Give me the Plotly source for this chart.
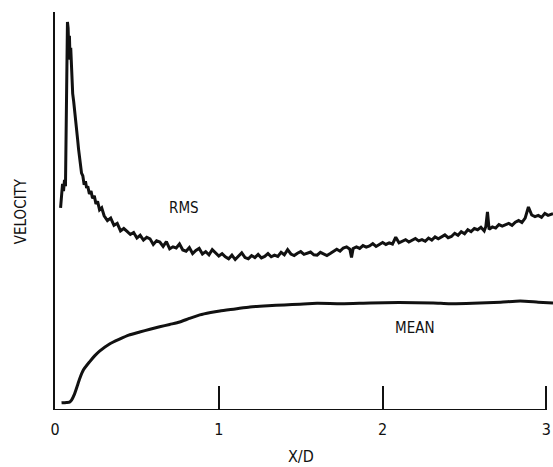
import plotly.graph_objects as go

# RMS velocity trace (x/d, arbitrary velocity units 0-100)
rms_x = [0.034, 0.040, 0.046, 0.052, 0.058, 0.064, 0.068, 0.072, 0.076, 0.080,
         0.084, 0.088, 0.092, 0.096, 0.100, 0.104, 0.108, 0.114, 0.120, 0.126,
         0.132, 0.138, 0.144, 0.150, 0.156, 0.162, 0.170, 0.178, 0.186, 0.193,
         0.200, 0.210, 0.220, 0.229, 0.240, 0.250, 0.260, 0.272, 0.285,
         0.30, 0.32, 0.34, 0.36, 0.38, 0.40, 0.42, 0.44, 0.46, 0.48,
         0.50, 0.52, 0.54, 0.56, 0.58, 0.60, 0.62, 0.64, 0.66, 0.68,
         0.70, 0.72, 0.74, 0.76, 0.78, 0.80, 0.82, 0.84, 0.86, 0.88,
         0.90, 0.92, 0.94, 0.96, 0.98, 1.00, 1.02, 1.04, 1.06, 1.08,
         1.10, 1.12, 1.14, 1.16, 1.18, 1.20, 1.22, 1.24, 1.26, 1.28,
         1.30, 1.32, 1.34, 1.36, 1.38, 1.40, 1.42, 1.44, 1.46, 1.48,
         1.50, 1.52, 1.54, 1.56, 1.58, 1.60, 1.62, 1.64, 1.66, 1.68,
         1.70, 1.72, 1.74, 1.76, 1.78, 1.80, 1.81, 1.82, 1.84, 1.86, 1.88,
         1.90, 1.92, 1.94, 1.96, 1.98, 2.00, 2.02, 2.04, 2.06, 2.08,
         2.10, 2.12, 2.14, 2.16, 2.18, 2.20, 2.22, 2.24, 2.26, 2.28,
         2.30, 2.32, 2.34, 2.36, 2.38, 2.40, 2.42, 2.44, 2.46, 2.48,
         2.50, 2.52, 2.54, 2.56, 2.58, 2.60, 2.62, 2.63, 2.64, 2.65,
         2.67, 2.69, 2.71, 2.73, 2.75, 2.77, 2.79, 2.81, 2.83, 2.85,
         2.87, 2.89, 2.91, 2.93, 2.95, 2.97, 2.99, 3.01, 3.04]
rms_y = [50.8, 54.0, 56.8, 55.0, 57.8, 56.2, 78.0, 92.0, 97.5, 96.0,
         90.5, 94.0, 88.0, 91.0, 86.0, 82.0, 79.5, 77.5, 75.5, 73.0,
         70.5, 68.0, 65.5, 63.5, 61.0, 59.5, 58.8, 56.6, 57.5, 55.8,
         56.2, 54.3, 55.0, 53.2, 53.8, 51.8, 52.4, 50.3, 50.8,
         48.8, 47.6, 48.2, 46.4, 46.9, 45.0, 45.6, 44.9, 44.1, 44.6,
         43.2, 43.9, 42.7, 43.4, 43.0, 41.6, 42.5, 42.2, 41.1, 42.3,
         40.5, 41.0, 40.7, 41.7, 40.2, 39.9, 40.8, 39.3, 40.1, 40.6,
         39.2, 39.8, 39.0, 40.3, 39.4, 38.7, 39.3, 38.5, 38.0, 38.9,
         37.8, 38.6, 39.5, 38.3, 38.0, 38.8, 38.3, 39.1, 38.2, 38.6,
         39.3, 38.5, 38.9, 38.6, 39.6, 39.0, 40.3, 39.2, 38.8, 39.4,
         39.8, 39.1, 39.5, 39.7, 39.0, 38.9, 39.6, 39.2, 38.8, 39.3,
         39.8, 40.4, 39.9, 40.7, 41.0, 40.4, 38.3, 40.6, 41.0, 40.6, 41.3,
         40.9, 41.2, 41.8, 41.1, 41.5, 42.1, 41.6, 42.0, 41.7, 43.4,
         42.0, 42.5, 42.8, 42.2, 42.7, 43.1, 42.5, 42.8, 42.4, 43.2,
         42.7, 43.5, 43.0, 43.4, 44.0, 43.3, 43.6, 44.4, 43.9, 44.8,
         44.3, 45.3, 44.8, 45.6, 45.3, 45.9, 45.0, 46.1, 49.8, 45.4,
         46.0, 45.7, 46.6, 46.2, 46.5, 46.9, 46.4, 47.2, 47.6, 47.1,
         48.2, 51.0, 49.0, 48.6, 48.9, 48.4, 49.4, 48.9, 49.3]

# mean velocity trace
mean_x = [0.040, 0.070, 0.089, 0.101, 0.119, 0.138, 0.150, 0.174, 0.211, 0.242,
          0.272, 0.333, 0.394, 0.45, 0.517, 0.58, 0.639, 0.70, 0.761, 0.82,
          0.884, 0.95, 1.006, 1.10, 1.19, 1.30, 1.40, 1.495, 1.60, 1.75,
          1.924, 2.10, 2.309, 2.41, 2.55, 2.72, 2.84, 2.95, 3.04]
mean_y = [1.8, 1.9, 2.0, 2.5, 4.0, 6.3, 7.8, 10.1, 12.1, 13.6,
          14.8, 16.6, 17.8, 18.8, 19.6, 20.3, 20.9, 21.5, 22.1, 23.0,
          23.9, 24.5, 24.9, 25.4, 25.9, 26.2, 26.4, 26.6, 26.8, 26.7,
          26.9, 27.0, 26.9, 26.7, 26.8, 27.1, 27.4, 27.1, 26.9]

x_ticks = [0, 1, 2, 3]
x_ticklabels = ["0", "1", "2", "3"]

FONT = "Liberation Sans Narrow, DejaVu Sans Condensed, Arial Narrow, sans-serif"
INK = "#111111"

fig = go.Figure()
fig.add_trace(go.Scatter(x=rms_x, y=rms_y, mode="lines",
                         line=dict(color=INK, width=3)))
fig.add_trace(go.Scatter(x=mean_x, y=mean_y, mode="lines",
                         line=dict(color=INK, width=3, shape="spline", smoothing=0.6)))

# bottom axis line stops at x/d = 3
fig.add_shape(type="line", xref="x", yref="y", x0=0, x1=3, y0=0, y1=0,
              line=dict(color=INK, width=2))

fig.add_annotation(x=0.79, y=50.8, text="RMS", showarrow=False,
                   font=dict(family=FONT, size=15, color=INK))
fig.add_annotation(x=2.20, y=20.7, text="MEAN", showarrow=False,
                   font=dict(family=FONT, size=15, color=INK))
fig.add_annotation(x=1.5, y=-0.116, yref="paper", yanchor="middle",
                   text="X/D", showarrow=False,
                   font=dict(family=FONT, size=16, color=INK))
fig.add_annotation(x=-0.068, xref="paper", xanchor="center", y=50,
                   text="VELOCITY", textangle=-90, showarrow=False,
                   font=dict(family=FONT, size=15, color=INK))

fig.update_xaxes(range=[0, 3.04], tickvals=x_ticks, ticktext=x_ticklabels,
                 ticks="inside", ticklen=24, tickwidth=2, tickcolor=INK,
                 ticklabelstandoff=8,
                 showline=False, showgrid=False, zeroline=False, automargin=False,
                 tickfont=dict(family=FONT, size=16, color=INK))
fig.update_yaxes(range=[0, 100], showticklabels=False, ticks="",
                 showline=True, linecolor=INK, linewidth=2, automargin=False,
                 showgrid=False, zeroline=False)

fig.update_layout(width=553, height=467, showlegend=False,
                  margin=dict(l=55, r=0, t=12, b=57),
                  plot_bgcolor="white", paper_bgcolor="white")

# drop the page's default body margin so the figure sits at the window origin
fig.write_html("out.html", config={"displayModeBar": False},
               post_script="document.body.style.margin='0';")
